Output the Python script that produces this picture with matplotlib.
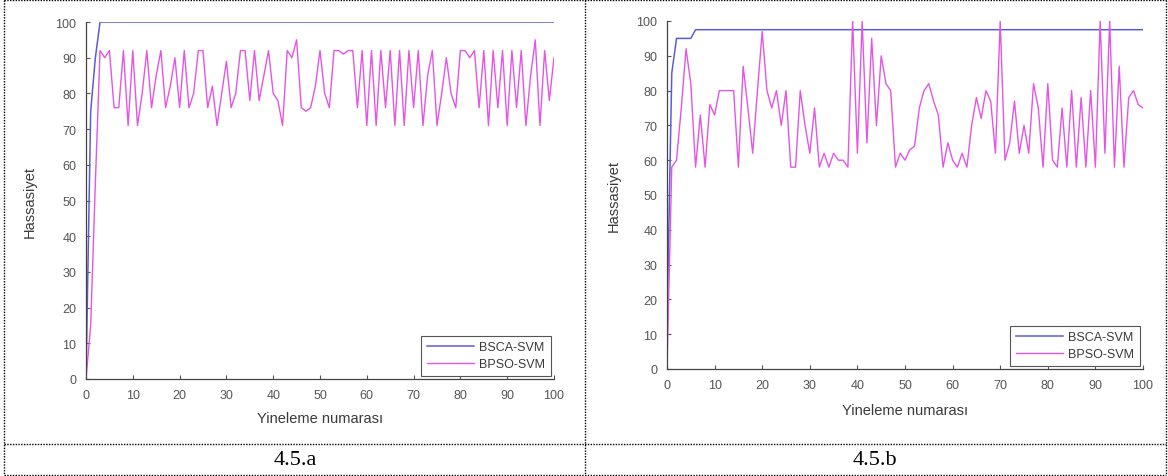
import numpy as np
import matplotlib as mpl
mpl.use('Agg')
import matplotlib.pyplot as plt
from matplotlib.lines import Line2D

#
#--- iteration axis (0 - 100)
#
iters = list(range(0, 101))
#
#--- 4.5.a: BSCA-SVM and BPSO-SVM precision
#
bsca_a = [0, 75, 90] + [100] * 98

bpso_a = [0, 15, 55, 92, 90, 92, 76, 76, 92, 71,
          92, 71, 80, 92, 76, 85, 92, 76, 82, 90,
          76, 92, 76, 80, 92, 92, 76, 82, 71, 80,
          89, 76, 80, 92, 92, 78, 92, 78, 85, 92,
          80, 78, 71, 92, 90, 95, 76, 75, 76, 82,
          92, 80, 76, 92, 92, 91, 92, 92, 76, 92,
          71, 92, 71, 92, 76, 92, 71, 92, 71, 92,
          76, 92, 71, 85, 92, 71, 80, 90, 80, 76,
          92, 92, 90, 92, 76, 92, 71, 92, 76, 92,
          71, 92, 76, 92, 71, 85, 95, 71, 92, 78,
          90]
#
#--- 4.5.b: BSCA-SVM and BPSO-SVM precision
#
bsca_b = [12, 85, 95, 95, 95, 95, 97.5] + [97.5] * 94

bpso_b = [0, 58, 60, 75, 92, 82, 58, 73, 58, 76,
          73, 80, 80, 80, 80, 58, 87, 75, 62, 80,
          97, 80, 75, 80, 70, 80, 58, 58, 80, 70,
          62, 75, 58, 62, 58, 62, 60, 60, 58, 100,
          62, 100, 65, 95, 70, 90, 82, 80, 58, 62,
          60, 63, 64, 75, 80, 82, 77, 73, 58, 65,
          60, 58, 62, 58, 70, 78, 72, 80, 77, 62,
          100, 60, 65, 77, 62, 70, 62, 82, 75, 58,
          82, 60, 58, 75, 58, 80, 58, 78, 58, 80,
          58, 100, 62, 100, 58, 87, 58, 78, 80, 76,
          75]

xticks = list(range(0, 101, 10))
yticks = list(range(0, 101, 10))
names  = ['BSCA-SVM', 'BPSO-SVM']
labels = ['4.5.a', '4.5.b']

#----------------------------------------------------------------------------------------
#--- plot_panel: one matlab style panel                                               ---
#----------------------------------------------------------------------------------------

def plot_panel(ax, x, y1, y2, xlab_y, ylab_x):
    """
    plot one panel
    input:  ax      --- axes
            x       --- iterations
            y1      --- BSCA-SVM values
            y2      --- BPSO-SVM values
            xlab_y  --- x label position (axes coords)
            ylab_x  --- y label position (axes coords)
    """
    p1, = ax.plot(x, y1, color='#5c5cd4', lw=1.1)
    p2, = ax.plot(x, y2, color='#e455e4', lw=1.0)

    ax.set_xlim(0, 100)
    ax.set_ylim(0, 100)
    ax.set_xticks(xticks)
    ax.set_yticks(yticks)
    ax.tick_params(direction='in', length=3, width=0.8, colors='#555555',
                   labelsize=9, pad=7)
    for side in ('top', 'right'):
        ax.spines[side].set_visible(False)
    for side in ('left', 'bottom'):
        ax.spines[side].set_color('#444444')
        ax.spines[side].set_linewidth(0.9)

    ax.set_xlabel('Yineleme numarası', fontsize=10.5, color='#3a3a3a')
    ax.set_ylabel('Hassasiyet', fontsize=10.5, color='#3a3a3a')
    ax.xaxis.set_label_coords(0.5, xlab_y)
    ax.yaxis.set_label_coords(ylab_x, 0.5)

    leg = ax.legend([p1, p2], names, loc='lower right', fontsize=9,
                    handlelength=3.8, fancybox=False, framealpha=1,
                    borderaxespad=0.25, labelspacing=0.4, borderpad=0.45,
                    handletextpad=0.4)
    leg.get_frame().set_edgecolor('#555555')
    leg.get_frame().set_linewidth(0.8)
    for t in leg.get_texts():
        t.set_color('#3a3a3a')

#------------------------------------------------------------------------

plt.rcParams['font.family'] = ['Liberation Sans', 'DejaVu Sans']

W = 1168.0
H = 477.0
fig = plt.figure(figsize=(W / 100, H / 100), dpi=100)
#
#--- left panel
#
ax1 = fig.add_axes([86 / W, (H - 380) / H, 468 / W, 357 / H])
plot_panel(ax1, iters, bsca_a, bpso_a, -0.09, -0.105)
#
#--- right panel
#
ax2 = fig.add_axes([667 / W, (H - 370) / H, 476 / W, 348 / H])
plot_panel(ax2, iters, bsca_b, bpso_b, -0.098, -0.098)
#
#--- dotted table borders
#
def fline(x0, y0, x1, y1):
    fig.add_artist(Line2D([x0 / W, x1 / W], [1 - y0 / H, 1 - y1 / H],
                          transform=fig.transFigure, color='black',
                          lw=1.0, linestyle=(0, (1, 1))))

fline(4, 1, 1166, 1)
fline(4, 475.5, 1166, 475.5)
fline(4, 445, 1166, 445)
fline(4, 1, 4, 475.5)
fline(585, 1, 585, 475.5)
fline(1166, 1, 1166, 475.5)
#
#--- captions
#
fig.text(295 / W, 1 - 461 / H, labels[0], ha='center', va='center',
         fontsize=16, family=['Liberation Serif', 'DejaVu Serif'])
fig.text(875 / W, 1 - 461 / H, labels[1], ha='center', va='center',
         fontsize=16, family=['Liberation Serif', 'DejaVu Serif'])

plt.savefig('out.png', dpi=100)
plt.close('all')
